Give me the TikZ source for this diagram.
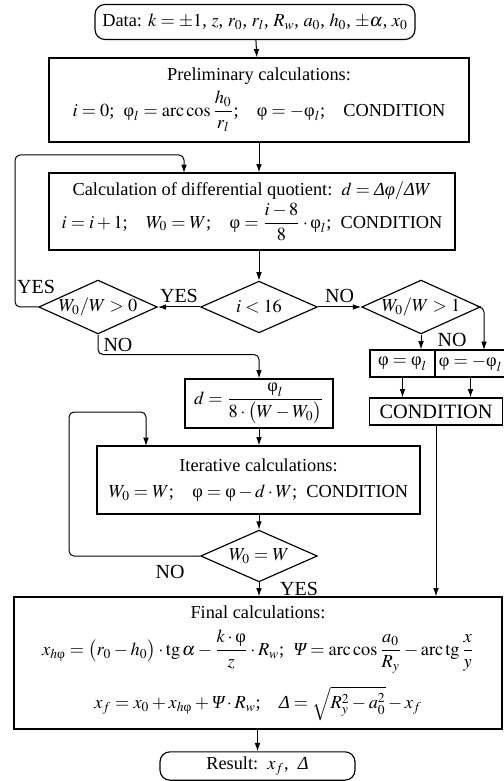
\documentclass[tikz,border=0pt]{standalone}
\usepackage{amsmath}
\usepackage{mathptmx}
\usepackage[no-math]{fontspec}
\setmainfont{Liberation Serif}
\usetikzlibrary{arrows.meta, shapes.geometric, positioning}
\newcommand{\fii}{\text{φ}}
\newcommand{\fiit}{\text{\itshape φ}}
\newcommand{\Psit}{\text{\itshape Ψ}}
\newcommand{\Dlt}{\text{\itshape Δ}}
\tikzset{
  blockbox/.style={draw, line width=0.7pt, align=center, inner sep=2pt},
  termbox/.style={draw, line width=0.7pt, rounded corners=6pt, inner sep=2pt},
  decbox/.style={draw, diamond, line width=0.7pt, aspect=2.2, inner sep=0pt,
    minimum width=70pt, minimum height=31pt},
  arr/.style={-{Latex[length=5pt, width=3.4pt]}, line width=0.6pt, rounded corners=3pt},
  conn/.style={line width=0.6pt, rounded corners=3pt},
  lbl/.style={font=\fontsize{12}{14}\selectfont, inner sep=1pt}
}

\begin{document}
\begin{tikzpicture}[x=0.6pt, y=-0.6pt, font=\fontsize{11}{13}\selectfont]
  \useasboundingbox (0,0) rectangle (503,781);

  % ---- Start and preliminary block -----------------------------------------
  \node[termbox, minimum width=192pt, minimum height=21pt] (data) at (255,22)
    {Data: $k=\pm 1$, $z$, $r_0$, $r_l$, $R_w$, $a_0$, $h_0$, $\pm\alpha$, $x_0$};
  \node[blockbox, minimum width=252pt, minimum height=50.4pt] (prelim) at (259,100)
    {Preliminary calculations:\\[3pt]
     $i=0$;\ \ $\fii_l=\mathrm{arc\,cos}\,\dfrac{h_0}{r_l}$;\quad $\fii=-\fii_l$;\quad CONDITION};

  % ---- Differential quotient and decisions ---------------------------------
  \node[blockbox, minimum width=243.6pt, minimum height=46.2pt] (calc) at (252,211.5)
    {Calculation of differential quotient:\ \ $d=\Dlt\fiit/\Dlt W$\\[1pt]
     $i=i+1$;\quad $W_0=W$;\quad $\fii=\dfrac{i-8}{8}\cdot\fii_l$;\ \ CONDITION};
  \node[decbox] (ifi) at (259,307) {$i<16$};
  \node[decbox] (ifpos) at (98,307) {$W_0/W>0$};
  \node[decbox] (ifone) at (421,307) {$W_0/W>1$};

  % ---- Right branch ---------------------------------------------------------
  \node[blockbox, minimum width=39pt, minimum height=16.2pt] (phia) at (402.5,363.5) {$\fii=\fii_l$};
  \node[blockbox, minimum width=38pt, minimum height=16.2pt] (phib) at (470.5,363.5) {$\fii=-\fii_l$};
  \node[blockbox, minimum width=79.8pt, minimum height=16.2pt, font=\fontsize{12.2}{14}\selectfont]
    (cond) at (436,411.5) {CONDITION};

  % ---- Iteration ------------------------------------------------------------
  \node[blockbox, minimum width=88.8pt, minimum height=29.4pt] (dbox) at (259,403.5)
    {$d=\dfrac{\fii_l}{8\cdot\bigl(W-W_0\bigr)}$};
  \node[blockbox, minimum width=193.8pt, minimum height=40.8pt] (iter) at (258.5,480)
    {Iterative calculations:\\[3pt]
     $W_0=W$;\quad $\fii=\fii-d\cdot W$;\ \ CONDITION};
  \node[decbox] (ifeq) at (259,556) {$W_0=W$};

  % ---- Final block and result -----------------------------------------------
  \node[blockbox, minimum width=292.8pt, minimum height=79.2pt] (final) at (258,663)
    {Final calculations:\\[6pt]
     $x_{h\fii}=\bigl(r_0-h_0\bigr)\cdot\mathrm{tg}\,\alpha-\dfrac{k\cdot\fii}{z}\cdot R_w$;\enspace
     $\Psit=\mathrm{arc\,cos}\,\dfrac{a_0}{R_y}-\mathrm{arc\,tg}\,\dfrac{x}{y}$\\[7pt]
     $x_f=x_0+x_{h\fii}+\Psit\cdot R_w$;\quad $\Dlt=\sqrt{R_y^2-a_0^2}-x_f$};
  \node[termbox, minimum width=117pt, minimum height=17pt] (result) at (257.5,766)
    {Result:\ \ $x_f$,\ \ $\Dlt$};

  % ---- Loop points ----------------------------------------------------------
  \coordinate (lpa) at (15,155);
  \coordinate (ina) at (184,173);
  \coordinate (inb) at (484,350);
  \coordinate (lpc) at (69,412);
  \coordinate (inc) at (146,446);

  % ---- Connectors -----------------------------------------------------------
  \draw[arr] (data) -- (prelim);
  \draw[arr] (prelim.south) -- (prelim.south |- calc.north);
  \draw[arr] (calc.south -| ifi) -- (ifi.north);
  \draw[arr] (ifi.west) -- (ifpos.east) node[lbl, midway, above=1pt] {YES};
  \draw[arr] (ifi.east) -- (ifone.west) node[lbl, midway, above=1pt] {NO};
  \draw[arr] (ifpos.west) -| (lpa) -| (ina);
  \node[lbl] at (36,287) {YES};
  \draw[arr] (ifpos.south) -- ++(0,20) node[lbl, midway, right=2pt] {NO} -| (dbox.north);
  \draw[arr] (ifone.south) -- (ifone.south |- phia.north);
  \node[lbl] at (452,340) {NO};
  \draw[arr] (ifone.east) -| (inb);
  \draw[arr] (phia.south) -- (phia.south |- cond.north);
  \draw[arr] (phib.south) -- (phib.south |- cond.north);
  \draw[arr] (cond.south) -- (cond.south |- final.north);
  \draw[arr] (dbox.south) -- (dbox.south |- iter.north);
  \draw[arr] (iter.south -| ifeq) -- (ifeq.north);
  \draw[arr] (ifeq.west) -| (lpc) -| (inc);
  \node[lbl] at (170,572) {NO};
  \draw[arr] (ifeq.south) -- (ifeq.south |- final.north);
  \node[lbl] at (299,589) {YES};
  \draw[arr] (final.south -| result) -- (result.north);
\end{tikzpicture}
\end{document}
